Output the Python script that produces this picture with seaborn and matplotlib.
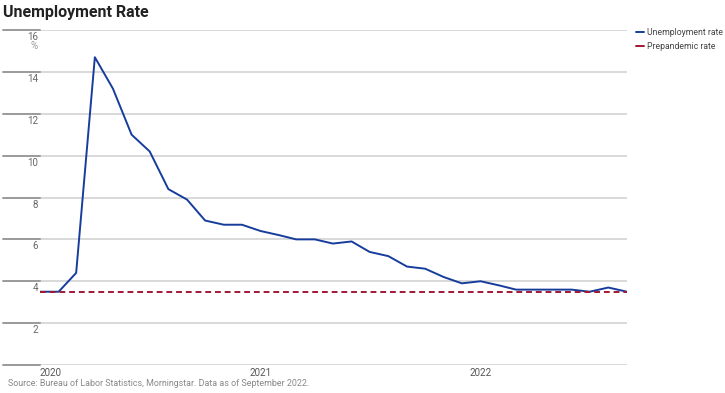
import pandas as pd
import matplotlib.pyplot as plt
import matplotlib.transforms as mtransforms
import seaborn as sns
from matplotlib.lines import Line2D

months = pd.date_range('2020-01-01', periods=33, freq='MS')
unemployment = [3.5, 3.5, 4.4, 14.7, 13.2, 11.0, 10.2, 8.4, 7.9, 6.9, 6.7, 6.7,
                6.4, 6.2, 6.0, 6.0, 5.8, 5.9, 5.4, 5.2, 4.7, 4.6, 4.2, 3.9,
                4.0, 3.8, 3.6, 3.6, 3.6, 3.6, 3.5, 3.7, 3.5]
prepandemic = 3.5
y_ticks = [2, 4, 6, 8, 10, 12, 14, 16]
x_ticks = ['2020-01-01', '2021-01-01', '2022-01-01']
x_labels = ['2020', '2021', '2022']

df = pd.DataFrame({'month': months, 'rate': unemployment})

sns.set_style('white')
plt.rcParams['font.family'] = ['Roboto', 'DejaVu Sans']

blue = '#173d9c'
red = '#a01836'
grid = '#d9d9d9'
txt = '#666666'

fig = plt.figure(figsize=(7.25, 3.93), dpi=100)
ax = fig.add_axes([40 / 725, 1 - 365 / 393, 587 / 725, 335 / 393])

sns.lineplot(data=df, x='month', y='rate', color=blue, linewidth=1.4, ax=ax, zorder=3)
ax.axhline(prepandemic, color=red, linestyle=(0, (3, 2)), linewidth=1.4, zorder=4)

ax.set_xlim(months[0], months[-1])
ax.set_ylim(0, 16)
for s in ax.spines.values():
    s.set_visible(False)
ax.set_xlabel('')
ax.set_ylabel('')
ax.set_yticks([])
ax.set_xticks(pd.to_datetime(x_ticks))
ax.set_xticklabels(x_labels, color='#555555', fontsize=7)
ax.tick_params(axis='x', length=0, pad=2)
ax.get_xticklabels()[0].set_ha('left')

left = -37 / 587
for v in [0] + y_ticks:
    ax.axhline(v, xmin=0, xmax=1, color=grid, linewidth=1.4, zorder=1)
    ax.axhline(v, xmin=left, xmax=0, color='#9a9a9a', linewidth=1.4, zorder=1, clip_on=False)

trans = mtransforms.blended_transform_factory(ax.transAxes, ax.transData)
off = mtransforms.offset_copy(trans, fig=fig, x=-1.5, y=-1.5, units='points')
for v in y_ticks:
    ax.text(0, v, str(v), transform=off, ha='right', va='top', fontsize=7, color=txt)
off2 = mtransforms.offset_copy(trans, fig=fig, x=-1.5, y=-8, units='points')
ax.text(0, 16, '%', transform=off2, ha='right', va='top', fontsize=7, color='#999999')

fig.text(3 / 725, 1 - 12 / 393, 'Unemployment Rate', fontsize=11.5, fontweight='bold',
         color='#222222', ha='left', va='center')
fig.text(8 / 725, 1 - 384 / 393, 'Source: Bureau of Labor Statistics, Morningstar. Data as of September 2022.',
         fontsize=6.4, color='#888888', ha='left', va='center')

handles = [Line2D([], [], color=blue, linewidth=1.4),
           Line2D([], [], color=red, linewidth=1.4)]
fig.legend(handles, ['Unemployment rate', 'Prepandemic rate'], loc='upper left',
           bbox_to_anchor=(636 / 725, 1 - 28 / 393), frameon=False, fontsize=6.2,
           handlelength=0.9, handletextpad=0.4, labelspacing=0.6, labelcolor='#444444',
           borderaxespad=0, borderpad=0)

fig.savefig('out.png', dpi=100)
